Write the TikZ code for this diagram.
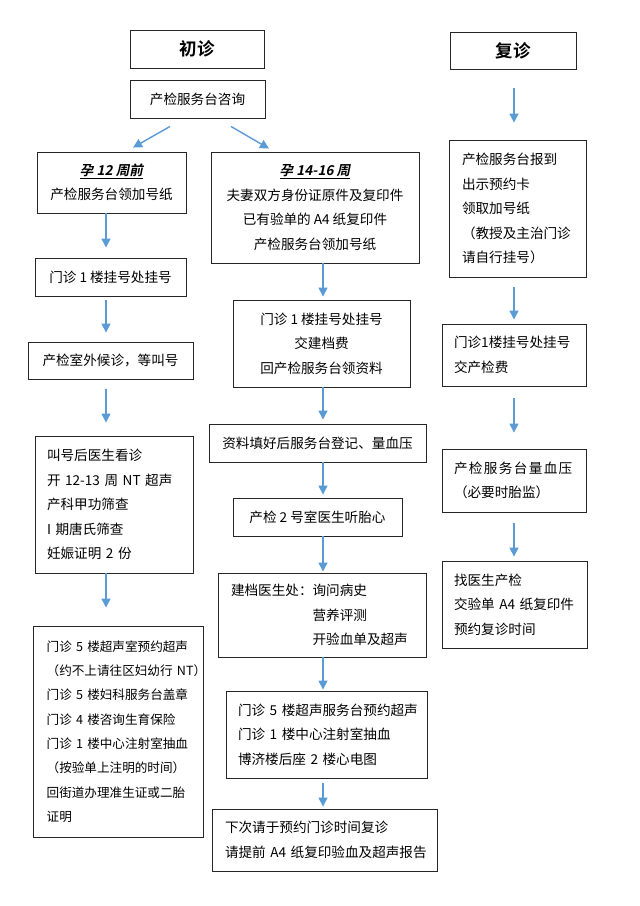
\documentclass[tikz,border=0pt]{standalone}
\usepackage{fontspec}
\setmainfont{Noto Sans CJK SC}[BoldFont={Noto Sans CJK SC Bold},
    ItalicFont={Noto Sans CJK SC}, ItalicFeatures={FakeSlant=0.2},
    BoldItalicFont={Noto Sans CJK SC Bold}, BoldItalicFeatures={FakeSlant=0.2}]
\usetikzlibrary{arrows.meta}
\definecolor{arrowblue}{RGB}{91,155,213}

\begin{document}
\begin{tikzpicture}[x=1pt, y=-1pt,
    box/.style={draw=black!85, line width=0.9pt, inner xsep=0pt, inner ysep=0pt, align=center,
        font=\fontsize{13.6pt}{24.4pt}\selectfont},
    lbox/.style={box, align=left, inner xsep=#1},
    head/.style={box, font=\fontsize{17.5pt}{20pt}\selectfont\bfseries},
    arr/.style={-{Triangle[length=9pt,width=9pt]}, draw=arrowblue, line width=1.4pt}]
    \useasboundingbox (0,0) rectangle (640,906);
    \coordinate (lx) at (106,0);
    \coordinate (mx) at (323,0);
    \coordinate (rx) at (514,0);

    % first visit
    \node[head, minimum width=134pt, minimum height=38pt] at (197,49) (chu) {初诊};
    \node[box, minimum width=135pt, minimum height=38pt] at (197.5,99) (zixun) {产检服务台咨询};
    \node[box, minimum width=149pt, minimum height=61pt] at (111.5,182.5) (zao)
        {\underline{\textbf{\textit{孕 12 周前}}}\\产检服务台领加号纸};
    \node[box, minimum width=208pt, minimum height=111pt] at (315,207.5) (zhong)
        {\underline{\textbf{\textit{孕 14-16 周}}}\\夫妻双方身份证原件及复印件\\已有验单的 A4 纸复印件\\产检服务台领加号纸};

    \node[box, minimum width=151pt, minimum height=38pt] at (110.5,277) (L1) {门诊 1 楼挂号处挂号};
    \node[box, minimum width=165pt, minimum height=37pt] at (110.5,360.5) (L2) {产检室外候诊，等叫号};
    \node[lbox=12pt, text width=134pt, minimum height=137pt] at (114,504.5) (L3)
        {叫号后医生看诊\\开~12-13~周~NT~超声\\产科甲功筛查\\I~期唐氏筛查\\妊娠证明~2~份};
    \node[lbox=13.7pt, text width=142.6pt, minimum height=211pt, font=\fontsize{12.6pt}{24.3pt}\selectfont] at (118,731.5) (L4)
        {门诊~5~楼超声室预约超声\\（约不上请往区妇幼行~NT）\\门诊~5~楼妇科服务台盖章\\门诊~4~楼咨询生育保险\\门诊~1~楼中心注射室抽血\\（按验单上注明的时间）\\回街道办理准生证或二胎\\证明};

    \node[box, minimum width=177pt, minimum height=87pt] at (321.5,343.5) (M2)
        {门诊 1 楼挂号处挂号\\交建档费\\回产检服务台领资料};
    \node[box, minimum width=217pt, minimum height=38pt] at (317.5,443) (M3) {资料填好后服务台登记、量血压};
    \node[box, minimum width=169pt, minimum height=38pt] at (317.5,517) (M4) {产检 2 号室医生听胎心};
    \node[lbox=13pt, text width=182pt, minimum height=84pt] at (322,615) (M5)
        {建档医生处：询问病史\\\phantom{建档医生处：}营养评测\\\phantom{建档医生处：}开验血单及超声};
    \node[lbox=12pt, text width=177pt, minimum height=87pt] at (326.5,734.5) (M6)
        {门诊~5~楼超声服务台预约超声\\门诊~1~楼中心注射室抽血\\博济楼后座~2~楼心电图};
    \node[lbox=13pt, text width=199pt, minimum height=62pt] at (324.5,840) (M7)
        {下次请于预约门诊时间复诊\\请提前~A4~纸复印验血及超声报告};

    % follow-up visit
    \node[head, minimum width=126pt, minimum height=37pt] at (513,50.5) (fu) {复诊};
    \node[lbox=13pt, text width=111pt, minimum height=137pt] at (517.5,208.5) (R1)
        {产检服务台报到\\出示预约卡\\领取加号纸\\（教授及主治门诊\\请自行挂号）};
    \node[lbox=12pt, text width=120pt, minimum height=62pt] at (514,355) (R2)
        {门诊1楼挂号处挂号\\交产检费};
    \node[lbox=12pt, text width=120pt, minimum height=63pt] at (514,480.5) (R3)
        {{\addfontfeature{LetterSpace=10}产检服务台量血压}\\（必要时胎监）};
    \node[lbox=12pt, text width=121pt, minimum height=87pt] at (514.5,604.5) (R4)
        {找医生产检\\交验单~A4~纸复印件\\预约复诊时间};

    \draw[arr] ([shift={(-27.5,8)}]zixun.south) -- ([shift={(21.5,-4)}]zao.north);
    \draw[arr] ([shift={(33.5,8)}]zixun.south) -- ([shift={(-46,-3)}]zhong.north);

    \draw[arr, shorten >=10pt] (zao.south -| lx) -- (L1.north -| lx);
    \draw[arr, shorten <=4pt, shorten >=9pt] (L1.south -| lx) -- (L2.north -| lx);
    \draw[arr, shorten <=10pt, shorten >=13pt] (L2.south -| lx) -- (L3.north -| lx);
    \draw[arr, shorten >=18pt] (L3.south -| lx) -- (L4.north -| lx);

    \draw[arr, shorten >=3pt] (zhong.south -| mx) -- (M2.north -| mx);
    \draw[arr, shorten >=4pt] (M2.south -| mx) -- (M3.north -| mx);
    \draw[arr, shorten >=3pt] (M3.south -| mx) -- (M4.north -| mx);
    \draw[arr, shorten >=1pt] (M4.south -| mx) -- (M5.north -| mx);
    \draw[arr, shorten >=1pt] (M5.south -| mx) -- (M6.north -| mx);
    \draw[arr, shorten <=5pt, shorten >=2pt] (M6.south -| mx) -- (M7.north -| mx);

    \draw[arr, shorten <=19pt, shorten >=17pt] (fu.south -| rx) -- (R1.north -| rx);
    \draw[arr, shorten <=10pt, shorten >=4pt] (R1.south -| rx) -- (R2.north -| rx);
    \draw[arr, shorten <=12pt, shorten >=16pt] (R2.south -| rx) -- (R3.north -| rx);
    \draw[arr, shorten <=11pt, shorten >=4pt] (R3.south -| rx) -- (R4.north -| rx);
\end{tikzpicture}
\end{document}
